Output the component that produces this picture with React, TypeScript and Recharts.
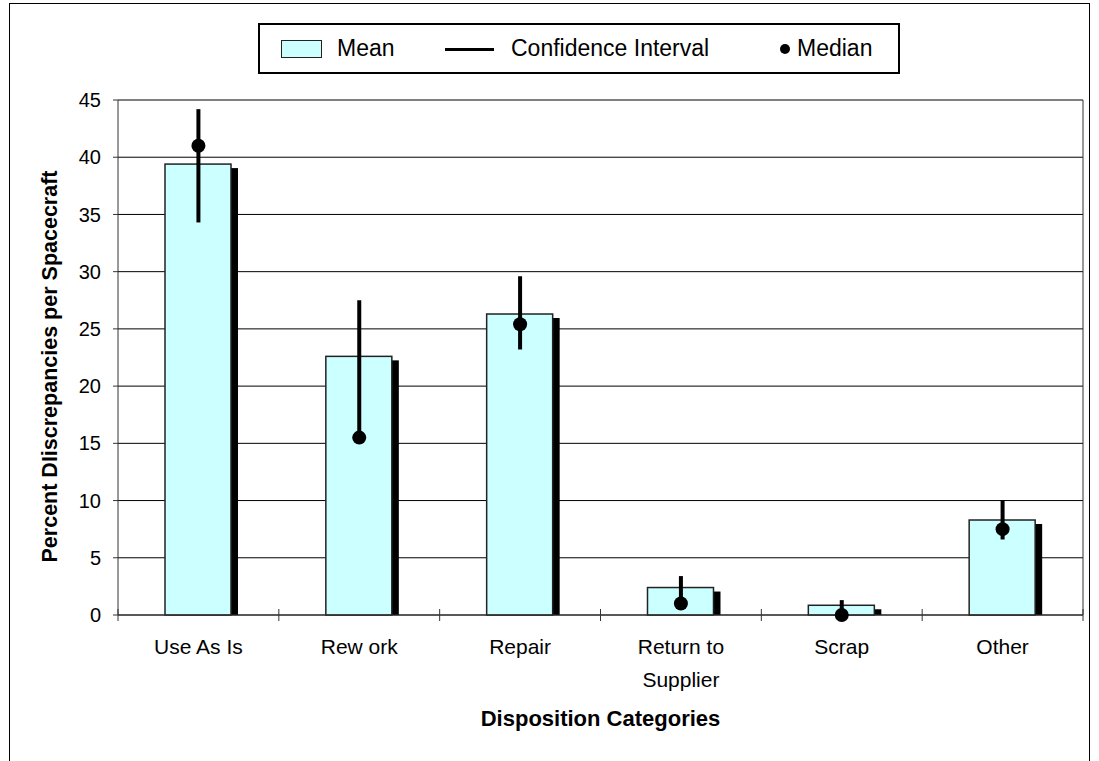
import React from "react";
import {
  Bar,
  CartesianGrid,
  ComposedChart,
  ErrorBar,
  Label,
  Legend,
  Scatter,
  XAxis,
  YAxis,
} from "recharts";

const categories = ["Use As Is", "Rew ork", "Repair", "Return to\nSupplier", "Scrap", "Other"];
const meanValues = [39.4, 22.6, 26.3, 2.4, 0.85, 8.3];
const medianValues = [41.0, 15.5, 25.4, 1.0, 0.0, 7.5];
const ciLow = [34.3, 15.5, 23.2, 1.0, 0.0, 6.6];
const ciHigh = [44.2, 27.5, 29.6, 3.4, 1.3, 10.05];
const yTicks = [0, 5, 10, 15, 20, 25, 30, 35, 40, 45];

const data = categories.map((name, i) => ({
  name,
  mean: meanValues[i],
  median: medianValues[i],
  ci: [medianValues[i] - ciLow[i], ciHigh[i] - medianValues[i]],
}));

const font = '"Liberation Sans", Arial, sans-serif';

function ShadowBar(props: any) {
  const { x, y, width, height } = props;
  if (!height || height <= 0) return null;
  return (
    <g>
      <rect x={x + 7} y={y + 4} width={width} height={Math.max(height - 4, 0)} fill="#000" />
      <rect x={x} y={y} width={width} height={height} fill="#ccffff" stroke="#222" strokeWidth={1.5} />
    </g>
  );
}

function MedianDot(props: any) {
  const { cx, cy } = props;
  return <circle cx={cx} cy={cy} r={7} fill="#000" />;
}

function CategoryTick(props: any) {
  const { x, y, payload } = props;
  const half = payload.offset || 80.4;
  const lines = String(payload.value).split("\n");
  const last = payload.index === categories.length - 1;
  return (
    <g>
      <line x1={x - half} x2={x - half} y1={y - 6} y2={y + 6} stroke="#333" />
      {last && <line x1={x + half} x2={x + half} y1={y - 6} y2={y + 6} stroke="#333" />}
      <text x={x} y={y + 39} textAnchor="middle" fontFamily={font} fontSize={21} fill="#000">
        {lines.map((ln, i) => (
          <tspan key={i} x={x} dy={i === 0 ? 0 : 33}>
            {ln}
          </tspan>
        ))}
      </text>
    </g>
  );
}

function LegendBox() {
  const txt: React.CSSProperties = {
    position: "absolute",
    top: 0,
    lineHeight: "47px",
    fontFamily: font,
    fontSize: 23,
    color: "#000",
    whiteSpace: "nowrap",
  };
  return (
    <div
      style={{
        position: "relative",
        width: 642,
        height: 51,
        border: "2px solid #000",
        boxSizing: "border-box",
        background: "#fff",
      }}
    >
      <div
        style={{
          position: "absolute",
          left: 21,
          top: 15,
          width: 41,
          height: 18,
          background: "#ccffff",
          border: "1.5px solid #222",
          boxSizing: "border-box",
        }}
      />
      <span style={{ ...txt, left: 77 }}>Mean</span>
      <div style={{ position: "absolute", left: 185, top: 23, width: 49, height: 3, background: "#000" }} />
      <span style={{ ...txt, left: 251 }}>Confidence Interval</span>
      <div
        style={{
          position: "absolute",
          left: 520,
          top: 19,
          width: 10,
          height: 10,
          borderRadius: 5,
          background: "#000",
        }}
      />
      <span style={{ ...txt, left: 537 }}>Median</span>
    </div>
  );
}

export default function App() {
  return (
    <div
      style={{
        position: "absolute",
        left: 0,
        top: 0,
        width: 1099,
        height: 761,
        background: "#fff",
        overflow: "hidden",
      }}
    >
      <div
        style={{
          position: "absolute",
          left: 9,
          top: 3,
          width: 1081,
          height: 800,
          border: "1px solid #000",
          boxSizing: "border-box",
        }}
      />
      <ComposedChart
        width={1099}
        height={761}
        data={data}
        margin={{ top: 100, right: 11, bottom: 46, left: 58 }}
      >
        <CartesianGrid vertical={false} stroke="#000" strokeWidth={1} />
        <XAxis
          dataKey="name"
          height={100}
          tickLine={false}
          tickSize={0}
          tickMargin={0}
          interval={0}
          stroke="#333"
          tick={<CategoryTick />}
        >
          <Label
            content={(p: any) => {
              const vb = p.viewBox;
              return (
                <text
                  x={vb.x + vb.width / 2}
                  y={vb.y + 111}
                  textAnchor="middle"
                  fontFamily={font}
                  fontSize={22}
                  fontWeight="bold"
                  fill="#000"
                >
                  Disposition Categories
                </text>
              );
            }}
          />
        </XAxis>
        <YAxis
          domain={[0, 45]}
          ticks={yTicks}
          width={60}
          tickSize={5}
          tickMargin={12}
          stroke="#333"
          tick={{ fill: "#000", fontSize: 20, fontFamily: font }}
        >
          <Label
            content={(p: any) => {
              const vb = p.viewBox;
              const cx = vb.x - 8;
              const cy = vb.y + vb.height / 2 + 9;
              return (
                <text
                  x={cx}
                  y={cy}
                  transform={`rotate(-90 ${cx} ${cy})`}
                  textAnchor="middle"
                  dominantBaseline="central"
                  fontFamily={font}
                  fontSize={21.5}
                  fontWeight="bold"
                  fill="#000"
                >
                  Percent DIiscrepancies per Spacecraft
                </text>
              );
            }}
          />
        </YAxis>
        <YAxis
          yAxisId="right"
          orientation="right"
          domain={[0, 45]}
          ticks={yTicks}
          width={5}
          tickSize={4}
          stroke="#333"
          tickFormatter={() => ""}
        />
        <Legend
          layout="horizontal"
          verticalAlign="middle"
          align="center"
          wrapperStyle={{ top: 23, left: 258, width: 642, height: 51 }}
          content={() => <LegendBox />}
        />
        <Bar dataKey="mean" name="Mean" barSize={66} shape={<ShadowBar />} isAnimationActive={false} />
        <Scatter dataKey="median" name="Median" fill="#000" shape={<MedianDot />} isAnimationActive={false}>
          <ErrorBar dataKey="ci" direction="y" width={0} strokeWidth={4} stroke="#000" isAnimationActive={false} />
        </Scatter>
      </ComposedChart>
    </div>
  );
}
